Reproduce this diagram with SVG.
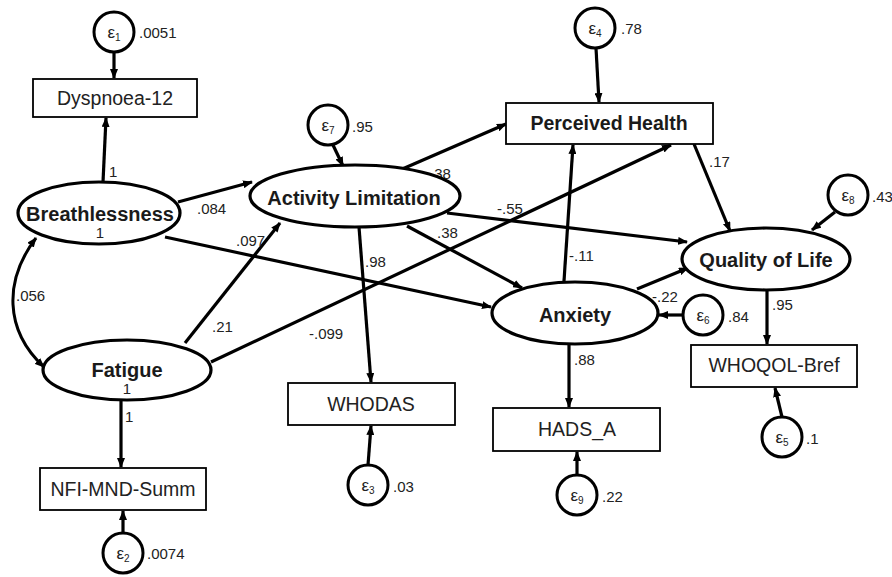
<svg xmlns="http://www.w3.org/2000/svg" width="892" height="577" viewBox="0 0 892 577">
<style>
.bg{fill:#fff}
.lat{fill:#fff;stroke:#000;stroke-width:3.2}
.box{fill:#fff;stroke:#000;stroke-width:1.8}
.err{fill:#fff;stroke:#000;stroke-width:3}
.p{fill:none;stroke:#000;stroke-width:3.2;marker-end:url(#ah)}
.cov{fill:none;stroke:#000;stroke-width:3;marker-start:url(#ah);marker-end:url(#ah)}
.lt{font-family:"Liberation Sans",Arial,sans-serif;font-weight:bold;font-size:20px;fill:#1a1a1a;text-anchor:middle}
.bt{font-family:"Liberation Sans",Arial,sans-serif;font-size:19.5px;fill:#222;text-anchor:middle}
.bt2{font-family:"Liberation Sans",Arial,sans-serif;font-weight:bold;font-size:19.5px;fill:#1a1a1a;text-anchor:middle}
.n{font-family:"Liberation Sans",Arial,sans-serif;font-size:15px;fill:#222}
.c{text-anchor:middle}
.e{font-family:"Liberation Sans",Arial,sans-serif;font-size:17px;fill:#222;text-anchor:middle}
.sub{font-size:10px}
</style>
<defs>
<marker id="ah" markerUnits="userSpaceOnUse" markerWidth="10" markerHeight="8" refX="9" refY="4" orient="auto-start-reverse">
<path d="M0,0 L10,4 L0,8 z" fill="#000"/>
</marker>
</defs>
<rect class="bg" x="0" y="0" width="892" height="577"/>

<g id="connectors">
<path class="p" d="M114,52 L114,78"/>
<path class="p" d="M103,182 L106,118"/>
<path class="cov" d="M36,238 C4,280 4,330 44,367"/>
<path class="p" d="M178,202 L252,182"/>
<path class="p" d="M165,237 L491,307"/>
<path class="p" d="M185,343 L280,223"/>
<path class="p" d="M211,362 L671,145"/>
<path class="p" d="M121,400 L121,467"/>
<path class="p" d="M123,533 L123,511"/>
<path class="p" d="M333,145 L343,166"/>
<path class="p" d="M400,170 L506,124"/>
<path class="p" d="M447,213 L687,242"/>
<path class="p" d="M407,226 L522,288"/>
<path class="p" d="M359,227 L371,382"/>
<path class="p" d="M368,465 L371,426"/>
<path class="p" d="M596,48 L599,102"/>
<path class="p" d="M564,281 L573,145"/>
<path class="p" d="M637,289 L688,268"/>
<path class="p" d="M683,315 L659,315"/>
<path class="p" d="M569,345 L569,407"/>
<path class="p" d="M577,475 L577,452"/>
<path class="p" d="M694,144 L730,231"/>
<path class="p" d="M835,212 L812,230"/>
<path class="p" d="M767,290 L767,344"/>
<path class="p" d="M782,417 L775,388"/>
</g>

<g id="labels">
<text class="n" x="139" y="38">.0051</text>
<text class="n" x="109" y="177">1</text>
<text class="n" x="197" y="214">.084</text>
<text class="n" x="236" y="246">.097</text>
<text class="n" x="16" y="301">.056</text>
<text class="n" x="212" y="332">.21</text>
<text class="n" x="309" y="339">-.099</text>
<text class="n" x="125" y="422">1</text>
<text class="n" x="147" y="559">.0074</text>
<text class="n" x="352" y="132">.95</text>
<text class="n" x="425" y="179">-.38</text>
<text class="n" x="497" y="214">-.55</text>
<text class="n" x="437" y="238">.38</text>
<text class="n" x="365" y="267">.98</text>
<text class="n" x="393" y="492">.03</text>
<text class="n" x="621" y="34">.78</text>
<text class="n" x="569" y="261">-.11</text>
<text class="n" x="652" y="302">-.22</text>
<text class="n" x="728" y="322">.84</text>
<text class="n" x="574" y="365">.88</text>
<text class="n" x="602" y="502">.22</text>
<text class="n" x="709" y="167">.17</text>
<text class="n" x="872" y="202">.43</text>
<text class="n" x="772" y="310">.95</text>
<text class="n" x="806" y="444">.1</text>
</g>

<g id="e1"><circle class="err" cx="114" cy="32" r="20"/><text class="e" x="114" y="38">ε<tspan class="sub" dy="3">1</tspan></text></g>
<g id="e2"><circle class="err" cx="123" cy="553" r="20"/><text class="e" x="123" y="559">ε<tspan class="sub" dy="3">2</tspan></text></g>
<g id="e3"><circle class="err" cx="368" cy="485" r="20"/><text class="e" x="368" y="491">ε<tspan class="sub" dy="3">3</tspan></text></g>
<g id="e4"><circle class="err" cx="595" cy="28" r="20"/><text class="e" x="595" y="34">ε<tspan class="sub" dy="3">4</tspan></text></g>
<g id="e5"><circle class="err" cx="782" cy="437" r="20"/><text class="e" x="782" y="443">ε<tspan class="sub" dy="3">5</tspan></text></g>
<g id="e6"><circle class="err" cx="703" cy="315" r="20"/><text class="e" x="703" y="321">ε<tspan class="sub" dy="3">6</tspan></text></g>
<g id="e7"><circle class="err" cx="328" cy="125" r="20"/><text class="e" x="328" y="131">ε<tspan class="sub" dy="3">7</tspan></text></g>
<g id="e8"><circle class="err" cx="848" cy="195" r="20"/><text class="e" x="848" y="201">ε<tspan class="sub" dy="3">8</tspan></text></g>
<g id="e9"><circle class="err" cx="577" cy="495" r="20"/><text class="e" x="577" y="501">ε<tspan class="sub" dy="3">9</tspan></text></g>

<g id="dyspnoea"><rect class="box" x="33" y="79" width="164" height="38"/><text class="bt" x="115" y="105">Dyspnoea-12</text></g>
<g id="nfi"><rect class="box" x="40" y="468" width="166" height="42"/><text class="bt" x="123" y="496">NFI-MND-Summ</text></g>
<g id="whodas"><rect class="box" x="288" y="383" width="167" height="42"/><text class="bt" x="371" y="411">WHODAS</text></g>
<g id="perceived"><rect class="box" x="506" y="103" width="207" height="41"/><text class="bt2" x="609" y="130">Perceived Health</text></g>
<g id="hads"><rect class="box" x="493" y="408" width="167" height="43"/><text class="bt" x="577" y="436">HADS_A</text></g>
<g id="whoqol"><rect class="box" x="691" y="345" width="166" height="42"/><text class="bt" x="774" y="372">WHOQOL-Bref</text></g>

<g id="breathlessness"><ellipse class="lat" cx="99" cy="213" rx="81" ry="31"/><text class="lt" x="100" y="221">Breathlessness</text><text class="n c" x="100" y="238">1</text></g>
<g id="fatigue"><ellipse class="lat" cx="127" cy="370" rx="84" ry="30"/><text class="lt" x="127" y="377">Fatigue</text><text class="n c" x="127" y="394">1</text></g>
<g id="activity"><ellipse class="lat" cx="355" cy="196" rx="105" ry="31"/><text class="lt" x="354" y="205">Activity Limitation</text></g>
<g id="anxiety"><ellipse class="lat" cx="575" cy="313" rx="83" ry="31"/><text class="lt" x="575" y="322">Anxiety</text></g>
<g id="qol"><ellipse class="lat" cx="766" cy="259" rx="84" ry="31"/><text class="lt" x="766" y="267">Quality of Life</text></g>
</svg>
